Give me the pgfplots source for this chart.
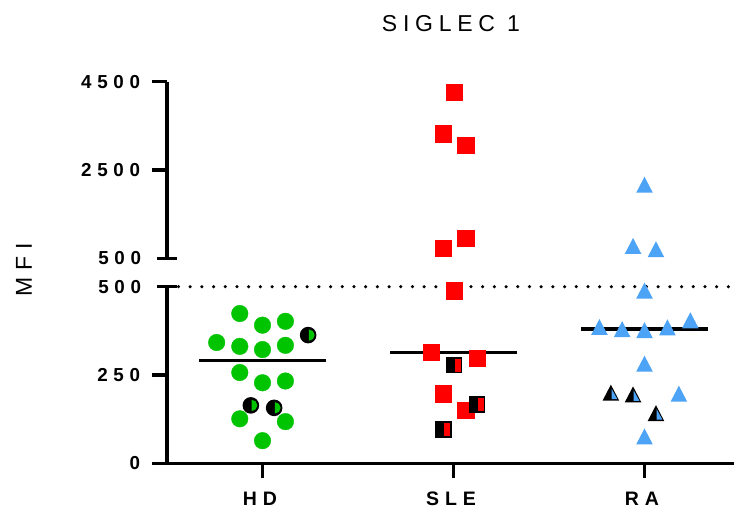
\documentclass[border=0pt]{standalone}
\usepackage{fontspec}
\setmainfont{Liberation Sans}
\newfontfamily\spaced[LetterSpace=30]{Liberation Sans}
\newfontfamily\tspaced[LetterSpace=25]{Liberation Sans}
\usepackage{pgfplots}
\pgfplotsset{compat=1.18}
\definecolor{hdgreen}{RGB}{0,196,0}
\definecolor{slered}{RGB}{255,0,0}
\definecolor{rablue}{RGB}{77,163,245}
\newcommand\ticklab{\spaced\bfseries\fontsize{18.8bp}{20bp}\selectfont}
\newcommand\xlab{\spaced\bfseries\fontsize{19.5bp}{21bp}\selectfont}

% half-filled markers: black body, coloured right half
\pgfdeclareplotmark{hcirc}{%
  \pgfpathcircle{\pgfpointorigin}{\pgfplotmarksize}%
  \pgfsetfillcolor{black}\pgfusepathqfill
  \pgfpathmoveto{\pgfqpoint{0.1\pgfplotmarksize}{0.68\pgfplotmarksize}}%
  \pgfpatharc{90}{-90}{0.68\pgfplotmarksize}%
  \pgfpathclose
  \pgfsetfillcolor{hdgreen}\pgfusepathqfill
}
\pgfdeclareplotmark{hsq}{%
  \pgfpathrectangle{\pgfqpoint{-\pgfplotmarksize}{-\pgfplotmarksize}}{\pgfqpoint{2\pgfplotmarksize}{2\pgfplotmarksize}}%
  \pgfsetfillcolor{black}\pgfusepathqfill
  \pgfpathrectangle{\pgfqpoint{0.06\pgfplotmarksize}{-0.78\pgfplotmarksize}}{\pgfqpoint{0.74\pgfplotmarksize}{1.56\pgfplotmarksize}}%
  \pgfsetfillcolor{slered}\pgfusepathqfill
}
\pgfdeclareplotmark{tri}{%
  \pgfpathmoveto{\pgfqpoint{0pt}{\pgfplotmarksize}}%
  \pgfpathlineto{\pgfqpoint{1.04\pgfplotmarksize}{-\pgfplotmarksize}}%
  \pgfpathlineto{\pgfqpoint{-1.04\pgfplotmarksize}{-\pgfplotmarksize}}%
  \pgfpathclose
  \pgfsetfillcolor{rablue}\pgfusepathqfill
}
\pgfdeclareplotmark{htri}{%
  \pgfpathmoveto{\pgfqpoint{0pt}{\pgfplotmarksize}}%
  \pgfpathlineto{\pgfqpoint{1.04\pgfplotmarksize}{-\pgfplotmarksize}}%
  \pgfpathlineto{\pgfqpoint{-1.04\pgfplotmarksize}{-\pgfplotmarksize}}%
  \pgfpathclose
  \pgfsetfillcolor{black}\pgfusepathqfill
  \pgfpathmoveto{\pgfqpoint{0.08\pgfplotmarksize}{0.5\pgfplotmarksize}}%
  \pgfpathlineto{\pgfqpoint{0.8\pgfplotmarksize}{-0.8\pgfplotmarksize}}%
  \pgfpathlineto{\pgfqpoint{0.08\pgfplotmarksize}{-0.8\pgfplotmarksize}}%
  \pgfpathclose
  \pgfsetfillcolor{rablue}\pgfusepathqfill
}

\pgfplotsset{
  brk/.style={
    scale only axis, width=573bp, height=176.6bp,
    xmin=-0.5, xmax=2.5, clip=false,
    axis line style={line width=3.2bp, black},
    tick style={line width=3.2bp, black},
    tick align=outside, major tick length=15bp,
    yticklabel style={font=\ticklab, xshift=-8.5bp},
    /pgf/number format/assume math mode=true,
    /pgf/number format/1000 sep={},
    scaled y ticks=false,
    extra y ticks={500},
    extra y tick style={tick align=center, major tick length=19bp,
      yticklabel style={xshift=-4.5bp}},
  },
  med/.style={black, line width=3.2bp, no marks},
}

\begin{document}
\begin{tikzpicture}
\useasboundingbox (0,0) rectangle (734bp,508bp);

% ---------- lower segment 0..500 ----------
\begin{axis}[brk, at={(167bp,44.7bp)}, anchor=south west,
  ymin=0, ymax=500, ytick={0,250},
  axis x line*=bottom, axis y line*=left,
  xtick={0,1,2}, xticklabels={HD,SLE,RA},
  xticklabel style={font=\xlab, yshift=-10bp, xshift=-2.5bp},
]
\addplot[black, line width=3.5bp, line cap=round, dash pattern=on 0bp off 11.7bp, no marks]
  coordinates {(-0.44,500) (2.5,500)};
% medians
\addplot[med] coordinates {(-0.33,290) (0.33,290)};
\addplot[med] coordinates {(0.67,313) (1.33,313)};
\addplot[med] coordinates {(1.67,380) (2.33,380)};
% HD
\addplot[only marks, mark=*, mark size=8.3bp, hdgreen, mark options={draw=none}] coordinates {
 (-0.119,424) (0,391) (0.12,402) (-0.24,342) (-0.119,331) (0,322) (0.12,334)
 (-0.119,257) (0,228) (0.12,233) (-0.119,126) (0.12,118) (0,64)};
\addplot[only marks, mark=hcirc, mark size=8.3bp] coordinates {
 (0.239,363) (-0.061,164) (0.061,157)};
% SLE
\addplot[only marks, mark=square*, mark size=8.3bp, slered, mark options={draw=none}] coordinates {
 (1.003,488) (0.883,314) (1.124,297) (0.947,197) (1.065,150)};
\addplot[only marks, mark=hsq, mark size=8.3bp] coordinates {
 (1.003,278) (1.124,166) (0.947,96)};
% RA
\addplot[only marks, mark=tri, mark size=8bp] coordinates {
 (2,489) (1.764,386) (1.883,380) (2,377) (2.12,385) (2.24,405) (2,282) (2.18,197) (2,76)};
\addplot[only marks, mark=htri, mark size=8bp] coordinates {
 (1.824,200) (1.94,195) (2.06,142)};
\end{axis}

% ---------- upper segment 500..4500 ----------
\begin{axis}[brk, at={(167bp,249.7bp)}, anchor=south west,
  ymin=500, ymax=4500, ytick={2500,4500},
  axis y line*=left, axis x line=none,
]
\addplot[only marks, mark=square*, mark size=8.3bp, slered, mark options={draw=none}] coordinates {
 (1.003,4264) (0.947,3325) (1.065,3060) (1.065,955) (0.947,727)};
\addplot[only marks, mark=tri, mark size=8bp] coordinates {
 (2,2166) (1.94,780) (2.06,705)};
\end{axis}

\node[font=\tspaced\fontsize{23bp}{25bp}\selectfont] at (451bp,484bp) {SIGLEC 1};
\node[rotate=90, font=\spaced\fontsize{23bp}{25bp}\selectfont] at (24bp,238bp) {MFI};
\end{tikzpicture}
\end{document}
